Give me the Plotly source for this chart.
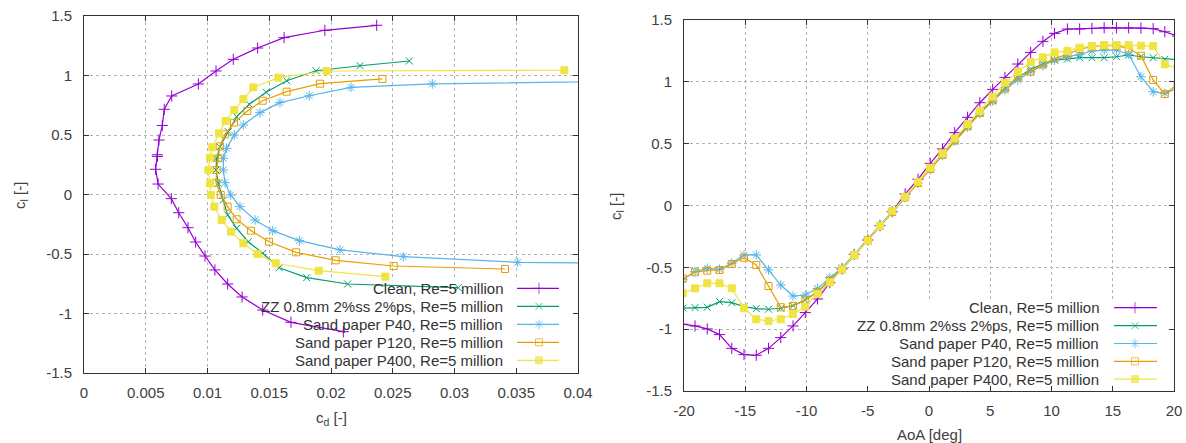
import plotly.graph_objects as go

W, H = 1186, 443

# ---------------- data: left plot (drag polar) ----------------
clean_cd = [0.0210, 0.01676, 0.01447, 0.0128, 0.01163, 0.0106, 0.0098, 0.00904, 0.00842, 0.00767,
            0.00707, 0.0060, 0.0058, 0.00594, 0.00594, 0.00607, 0.00634, 0.0065, 0.0071, 0.00926,
            0.01069, 0.01209, 0.01406, 0.0162, 0.0195, 0.0237]
clean_cl = [-1.153, -1.074, -0.971, -0.861, -0.752, -0.634, -0.517, -0.399, -0.279, -0.153,
            -0.035, 0.088, 0.212, 0.32, 0.334, 0.458, 0.58, 0.716, 0.828, 0.929,
            1.038, 1.136, 1.231, 1.318, 1.38, 1.422]

zz_cd = [0.0303, 0.02135, 0.01803, 0.01581, 0.01447, 0.0133, 0.01236, 0.01163, 0.01128, 0.01088,
         0.01069, 0.01074, 0.0110, 0.01168, 0.01236, 0.01339, 0.01474, 0.01641, 0.01879, 0.02235, 0.02634]
zz_cl = [-0.783, -0.752, -0.699, -0.615, -0.494, -0.397, -0.284, -0.172, -0.046, 0.094,
         0.206, 0.304, 0.402, 0.528, 0.654, 0.758, 0.859, 0.956, 1.04, 1.082, 1.122]

p40_cd = [0.045, 0.03512, 0.02585, 0.02073, 0.01744, 0.01528, 0.01385, 0.01263, 0.01188, 0.01142,
          0.01128, 0.01128, 0.01155, 0.01217, 0.0129, 0.01425, 0.01587, 0.01824, 0.02162, 0.0282, 0.05]
p40_cl = [-0.58, -0.57, -0.522, -0.466, -0.388, -0.304, -0.214, -0.102, -0.004, 0.099,
          0.206, 0.304, 0.388, 0.5, 0.584, 0.688, 0.772, 0.83, 0.90, 0.929, 0.96]

p120_cd = [0.03409, 0.02508, 0.02038, 0.01717, 0.01498, 0.01352, 0.01236, 0.01163, 0.01107, 0.01069,
           0.01074, 0.01088, 0.0110, 0.01142, 0.01215, 0.01322, 0.01447, 0.01641, 0.01911, 0.02416]
p120_cl = [-0.626, -0.601, -0.553, -0.486, -0.397, -0.304, -0.208, -0.102, -0.004, 0.099,
           0.206, 0.304, 0.404, 0.506, 0.604, 0.702, 0.788, 0.864, 0.931, 0.971]

p400_cd = [0.0244, 0.0190, 0.01552, 0.01406, 0.0129, 0.0119, 0.01115, 0.01055, 0.01028, 0.0102,
           0.01007, 0.0102, 0.01039, 0.01093, 0.01147, 0.01217, 0.0129, 0.01371, 0.01574, 0.01965, 0.0389]
p400_cl = [-0.69, -0.64, -0.578, -0.5, -0.41, -0.312, -0.214, -0.102, -0.004, 0.094,
           0.206, 0.31, 0.397, 0.514, 0.618, 0.71, 0.803, 0.90, 0.982, 1.038, 1.044]

# ---------------- data: right plot (lift curve) ----------------
aoa = [-20.1, -19.1, -18.1, -17.1, -16.1, -15.1, -14.1, -13.1, -12.1, -11.1, -10.1, -9.1, -8.1, -7.1,
       -6.1, -5.0, -4.0, -3.0, -1.95, -0.9, 0.1, 1.1, 2.1, 3.15, 4.15, 5.2, 6.2, 7.25, 8.3, 9.3,
       10.25, 11.3, 12.3, 13.3, 14.3, 15.3, 16.3, 17.3, 18.3, 19.25, 20.3]
clean_cl_a = [-0.96, -0.974, -0.998, -1.044, -1.155, -1.206, -1.211, -1.155, -1.068, -0.974, -0.866,
              -0.756, -0.624, -0.513, -0.395, -0.279, -0.163, -0.05, 0.093, 0.212, 0.341, 0.457,
              0.589, 0.713, 0.831, 0.939, 1.036, 1.144, 1.238, 1.327, 1.392, 1.427, 1.427, 1.432,
              1.437, 1.437, 1.437, 1.435, 1.43, 1.405, 1.37]
zz_cl_a = [-0.83, -0.826, -0.823, -0.777, -0.786, -0.818, -0.834, -0.839, -0.831, -0.81, -0.764,
           -0.697, -0.602, -0.516, -0.406, -0.287, -0.17, -0.055, 0.065, 0.185, 0.30, 0.415,
           0.53, 0.645, 0.75, 0.855, 0.95, 1.035, 1.10, 1.145, 1.175, 1.185, 1.195, 1.195,
           1.195, 1.203, 1.217, 1.203, 1.195, 1.182, 1.18]
p40_cl_a = [-0.60, -0.535, -0.508, -0.516, -0.467, -0.40, -0.40, -0.521, -0.643, -0.732, -0.724,
            -0.67, -0.583, -0.503, -0.395, -0.273, -0.16, -0.05, 0.065, 0.18, 0.29, 0.405,
            0.52, 0.635, 0.745, 0.845, 0.934, 1.015, 1.082, 1.13, 1.176, 1.203, 1.222, 1.249,
            1.257, 1.257, 1.222, 1.041, 0.92, 0.907, 0.95]
p120_cl_a = [-0.59, -0.54, -0.527, -0.521, -0.473, -0.422, -0.481, -0.651, -0.823, -0.812, -0.764,
             -0.697, -0.608, -0.516, -0.40, -0.28, -0.165, -0.052, 0.065, 0.182, 0.295, 0.41,
             0.525, 0.64, 0.748, 0.85, 0.945, 1.041, 1.082, 1.141, 1.19, 1.222, 1.265, 1.284,
             1.292, 1.292, 1.271, 1.211, 1.015, 0.901, 0.98]
p400_cl_a = [-0.71, -0.67, -0.629, -0.629, -0.67, -0.831, -0.92, -0.934, -0.92, -0.877, -0.818,
             -0.715, -0.621, -0.516, -0.40, -0.284, -0.165, -0.045, 0.071, 0.192, 0.306, 0.422,
             0.543, 0.659, 0.766, 0.88, 0.993, 1.082, 1.16, 1.198, 1.238, 1.251, 1.276, 1.289,
             1.297, 1.297, 1.297, 1.292, 1.289, 1.141, 1.11]

names = ["Clean, Re=5 million", "ZZ 0.8mm 2%ss 2%ps, Re=5 million", "Sand paper P40, Re=5 million",
         "Sand paper P120, Re=5 million", "Sand paper P400, Re=5 million"]

cd_ticks = [0, 0.005, 0.01, 0.015, 0.02, 0.025, 0.03, 0.035, 0.04]
cd_tick_labels = ["0", "0.005", "0.01", "0.015", "0.02", "0.025", "0.03", "0.035", "0.04"]
cl_ticks = [-1.5, -1, -0.5, 0, 0.5, 1, 1.5]
cl_tick_labels = ["-1.5", "-1", "-0.5", "0", "0.5", "1", "1.5"]
aoa_ticks = [-20, -15, -10, -5, 0, 5, 10, 15, 20]
aoa_tick_labels = ["-20", "-15", "-10", "-5", "0", "5", "10", "15", "20"]

# ---------------- styles ----------------
colors = ["#9400d3", "#009e73", "#56b4e9", "#e69f00", "#f0e442"]
symbols = ["cross-thin", "x-thin", "asterisk", "square-open", "square"]
msizes = [8, 7, 8, 7, 7]
FONT = "Liberation Sans, Arial, sans-serif"
TXT = "#404040"

polars = [(clean_cd, clean_cl), (zz_cd, zz_cl), (p40_cd, p40_cl), (p120_cd, p120_cl), (p400_cd, p400_cl)]
lifts = [clean_cl_a, zz_cl_a, p40_cl_a, p120_cl_a, p400_cl_a]

fig = go.Figure()


def mk(i, size=None):
    return dict(symbol=symbols[i], size=msizes[i] if size is None else size, color=colors[i],
                line=dict(color=colors[i], width=1))


for i, (cd, cl) in enumerate(polars):
    fig.add_trace(go.Scatter(x=cd, y=cl, mode="lines+markers", name=names[i],
                             line=dict(color=colors[i], width=1.2), marker=mk(i),
                             xaxis="x", yaxis="y", showlegend=False))
for i, cl in enumerate(lifts):
    fig.add_trace(go.Scatter(x=aoa, y=cl, mode="lines+markers", name=names[i],
                             line=dict(color=colors[i], width=1.2), marker=mk(i),
                             xaxis="x2", yaxis="y2", showlegend=False))

# ---------------- manual key (gnuplot style: text right, sample left) ----------------
keys = [
    dict(text_right=505, x1=517, xm=539, x2=559, rows=[288.3, 306.3, 324.3, 342.3, 360.3]),
    dict(text_right=1101, x1=1114, xm=1135, x2=1157, rows=[307.7, 325.7, 343.5, 361.3, 379.1]),
]
annotations = []
for k in keys:
    for i, yy in enumerate(k["rows"]):
        annotations.append(dict(text=names[i], x=k["text_right"] / W, y=1 - yy / H, xref="paper",
                                yref="paper", xanchor="right", yanchor="middle", showarrow=False,
                                font=dict(family=FONT, size=15, color="#333333")))
        fig.add_trace(go.Scatter(x=[k["x1"], k["xm"], k["x2"]], y=[yy, yy, yy], mode="lines+markers",
                                 line=dict(color=colors[i], width=1.2),
                                 marker=dict(symbol=symbols[i], size=[0, msizes[i], 0], color=colors[i],
                                             line=dict(color=colors[i], width=1)),
                                 xaxis="x3", yaxis="y3", showlegend=False, hoverinfo="skip"))

# axis titles
annotations += [
    dict(text="c<sub>l</sub> [-]", x=20 / W, y=1 - 196 / H, textangle=-90),
    dict(text="c<sub>d</sub> [-]", x=331 / W, y=1 - 418 / H, textangle=0),
    dict(text="c<sub>l</sub> [-]", x=617 / W, y=1 - 207 / H, textangle=-90),
    dict(text="AoA [deg]", x=929 / W, y=1 - 434 / H, textangle=0),
]
for a in annotations[-4:]:
    a.update(xref="paper", yref="paper", xanchor="center", yanchor="middle", showarrow=False,
             font=dict(family=FONT, size=15, color=TXT))

axis_common = dict(showline=True, linecolor="#333333", linewidth=1, mirror="ticks", ticks="inside",
                   ticklen=5, tickcolor="#333333", showgrid=True, gridcolor="#b4b4b4", gridwidth=1,
                   griddash="dot", zeroline=False, automargin=False,
                   tickfont=dict(family=FONT, size=15, color=TXT))

fig.update_layout(
    width=W, height=H, autosize=False,
    margin=dict(l=0, r=0, t=0, b=0, pad=0, autoexpand=False),
    paper_bgcolor="white", plot_bgcolor="rgba(0,0,0,0)",
    font=dict(family=FONT, size=15, color=TXT),
    showlegend=False,
    xaxis=dict(domain=[84 / W, 578 / W], range=[0, 0.04], tickvals=cd_ticks, ticktext=cd_tick_labels,
               anchor="y", ticklabelstandoff=6, **axis_common),
    yaxis=dict(domain=[1 - 373 / H, 1 - 16 / H], range=[-1.5, 1.5], tickvals=cl_ticks,
               ticktext=cl_tick_labels, anchor="x", ticklabelstandoff=8, **axis_common),
    xaxis2=dict(domain=[684 / W, 1174 / W], range=[-20, 20], tickvals=aoa_ticks,
                ticktext=aoa_tick_labels, anchor="y2", ticklabelstandoff=6, **axis_common),
    yaxis2=dict(domain=[1 - 391 / H, 1 - 20 / H], range=[-1.5, 1.5], tickvals=cl_ticks,
                ticktext=cl_tick_labels, anchor="x2", ticklabelstandoff=8, **axis_common),
    xaxis3=dict(domain=[0, 1], range=[0, W], visible=False, anchor="y3", fixedrange=True,
                automargin=False),
    yaxis3=dict(domain=[0, 1], range=[H, 0], visible=False, anchor="x3", fixedrange=True,
                automargin=False),
    annotations=annotations,
    shapes=[
        # key areas keep the grid clear, as gnuplot does
        dict(type="rect", xref="x", yref="y", x0=0.0102, x1=0.04, y0=-1.5, y1=-0.72,
             fillcolor="white", line=dict(width=0), layer="between"),
        dict(type="rect", xref="x2", yref="y2", x0=-9.9, x1=20, y0=-1.5, y1=-0.765,
             fillcolor="white", line=dict(width=0), layer="between"),
    ],
)

fig.write_html("out.html", config={"displayModeBar": False},
               post_script="document.body.style.margin='0';document.body.style.overflow='hidden';")
